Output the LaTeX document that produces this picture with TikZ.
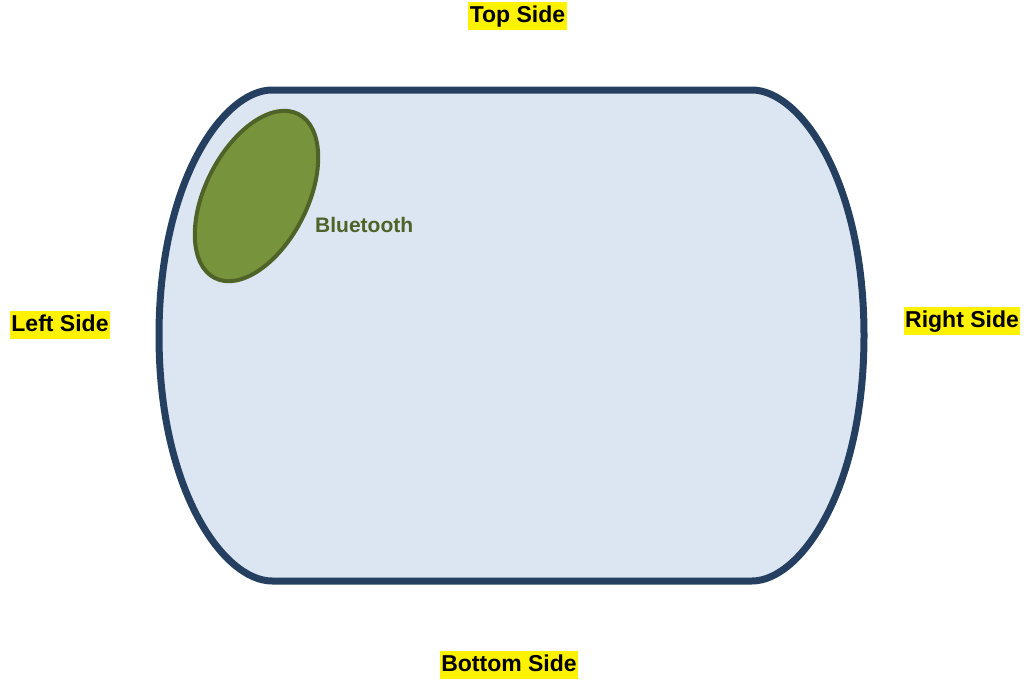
\documentclass[tikz,border=0pt]{standalone}
\usepackage{fontspec}
\setmainfont{Liberation Sans}
\usepackage{tikz}
\usetikzlibrary{shapes.geometric}
\definecolor{boardline}{HTML}{243F60}
\definecolor{boardfill}{HTML}{DCE6F2}
\definecolor{btline}{HTML}{4F6228}
\definecolor{btfill}{HTML}{77933C}
\tikzset{
  side_lbl/.style = {fill=yellow, inner xsep=1.5pt, inner ysep=2.5pt,
    text height=18.5pt, text depth=5pt, font=\fontsize{23}{27}\selectfont\bfseries},% etiquette de cote
  board/.style = {draw=boardline, fill=boardfill, line width=7pt,
    line join=round},% carte
  bt_zone/.style = {ellipse, draw=btline, fill=btfill, line width=4pt,
    inner sep=0pt, minimum width=184pt, minimum height=102pt},% zone bluetooth
  bt_lbl/.style = {btline, inner sep=0pt, font=\fontsize{21}{25}\selectfont\bfseries}
}
\begin{document}
\begin{tikzpicture}[x=1pt, y=-1pt]
\useasboundingbox (0,0) rectangle (1026,680);
\draw [board] (272,90) -- (752,90)
  .. controls (800,90) and (864,180) .. (864,335.5)
  .. controls (864,491) and (800,581) .. (752,581) -- (272,581)
  .. controls (224,581) and (159,491) .. (159,335.5)
  .. controls (159,180) and (224,90) .. (272,90) -- cycle;
\node [bt_zone, rotate=63] (bt) at (256.5,196) {};
\node [bt_lbl, anchor=base west] (btname) at (315,232) {Bluetooth};
\node [side_lbl] (top) at (517.5,16) {Top Side};
\node [side_lbl] (left) at (60,325) {Left Side};
\node [side_lbl] (right) at (962,321) {Right Side};
\node [side_lbl] (bottom) at (509,665) {Bottom Side};
\end{tikzpicture}
\end{document}
